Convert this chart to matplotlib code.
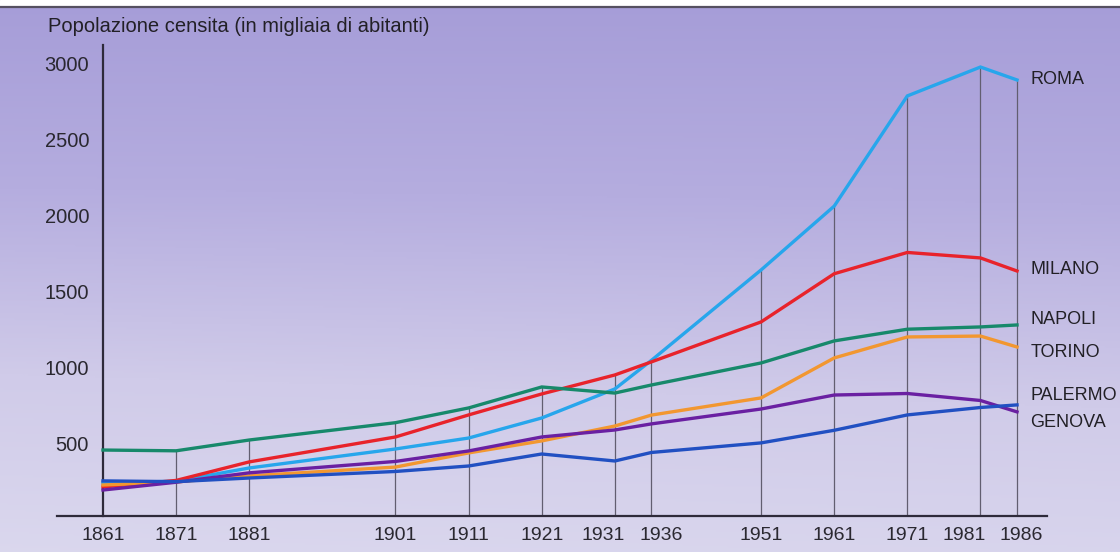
import numpy as np
import matplotlib
matplotlib.use("Agg")
import matplotlib.pyplot as plt
import matplotlib.transforms as mtransforms
from matplotlib.colors import LinearSegmentedColormap

years = [1861, 1871, 1881, 1901, 1911, 1921, 1931, 1936, 1951, 1961, 1971, 1981, 1986]
roma    = [243, 255, 342, 467, 539, 671, 862, 1050, 1645, 2065, 2790, 2980, 2895]
milano  = [217, 260, 382, 546, 691, 829, 954, 1040, 1303, 1620, 1760, 1724, 1638]
napoli  = [460, 455, 526, 640, 737, 875, 835, 888, 1033, 1178, 1255, 1270, 1283]
torino  = [230, 250, 290, 348, 441, 520, 618, 690, 803, 1066, 1204, 1210, 1138]
palermo = [197, 248, 310, 385, 454, 546, 592, 632, 730, 822, 832, 786, 711]
genova  = [257, 252, 276, 319, 355, 434, 388, 444, 507, 590, 691, 740, 757]

series = [
    ("ROMA", roma, "#27a6ec", 2895),
    ("MILANO", milano, "#e8232b", 1645),
    ("NAPOLI", napoli, "#17896b", 1316),
    ("TORINO", torino, "#f29730", 1105),
    ("PALERMO", palermo, "#6a20a2", 816),
    ("GENOVA", genova, "#2150c2", 638),
]
yticks = [500, 1000, 1500, 2000, 2500, 3000]
title = "Popolazione censita (in migliaia di abitanti)"

W, H = 1120, 552
fig = plt.figure(figsize=(W / 100, H / 100), dpi=100)

# background gradient
bg = fig.add_axes([0, 0, 1, 1], zorder=0)
bg.set_axis_off()
cmap = LinearSegmentedColormap.from_list("bgc", ["#a69dd8", "#b5addf", "#d0cbe9", "#dbd8ee"])
yy = np.linspace(0, 1, 300)[:, None]
xx = np.linspace(0, 1, 300)[None, :]
grad = np.clip(yy * 0.9 + (1 - xx) * 0.08 * yy, 0, 1)
bg.imshow(grad, cmap=cmap, aspect="auto", extent=[0, 1, 0, 1], origin="upper", vmin=0, vmax=1)
bg.set_xlim(0, 1)
bg.set_ylim(0, 1)
bg.axhspan(1 - 6 / H, 1, color="white", zorder=2)
bg.axhline(1 - 7 / H, color="#555060", lw=1.6, zorder=3)

ax = fig.add_axes([57 / W, 36 / H, 990 / W, 471 / H], zorder=1)
ax.set_facecolor("none")
ax.set_xlim(1854.71, 1990.10)
ax.set_ylim(26, 3125)

for s in ["top", "right"]:
    ax.spines[s].set_visible(False)
ax.spines["left"].set_position(("data", 1861))
ax.spines["left"].set_color("#2e2a3a")
ax.spines["left"].set_linewidth(1.6)
ax.spines["bottom"].set_color("#2e2a3a")
ax.spines["bottom"].set_linewidth(1.6)

# vertical reference lines up to the highest series value
tops = np.max(np.array([s[1] for s in series]), axis=0)
ax.vlines(years[1:], 26, tops[1:], color="#625e70", lw=0.9, zorder=1)

for name, vals, col, ly in series:
    ax.plot(years, vals, color=col, lw=2.4, solid_joinstyle="miter", zorder=3)
    ax.text(1987.8, ly, name, fontsize=13, color="#222026", va="center", ha="left",
            clip_on=False, family="Liberation Sans")

ax.set_yticks(yticks)
ax.set_yticklabels([str(t) for t in yticks], fontsize=14.5, color="#2a2830", family="Liberation Sans")
ax.set_xticks(years)
ax.set_xticklabels([str(y) for y in years], fontsize=14, color="#2a2830", family="Liberation Sans")
ax.tick_params(axis="y", length=0, pad=10)
ax.tick_params(axis="x", length=0, pad=8)

# nudge crowded year labels apart (pixel offsets)
shifts = {1931: -12, 1936: 10, 1981: -16, 1986: 4}
for lab, yr in zip(ax.get_xticklabels(), years):
    if yr in shifts:
        off = mtransforms.ScaledTranslation(shifts[yr] / 100, 0, fig.dpi_scale_trans)
        lab.set_transform(lab.get_transform() + off)

fig.text(48 / W, 1 - 27 / H, title, fontsize=14.5, color="#222026", va="center", ha="left",
         family="Liberation Sans")

fig.savefig("out.png", dpi=100)
